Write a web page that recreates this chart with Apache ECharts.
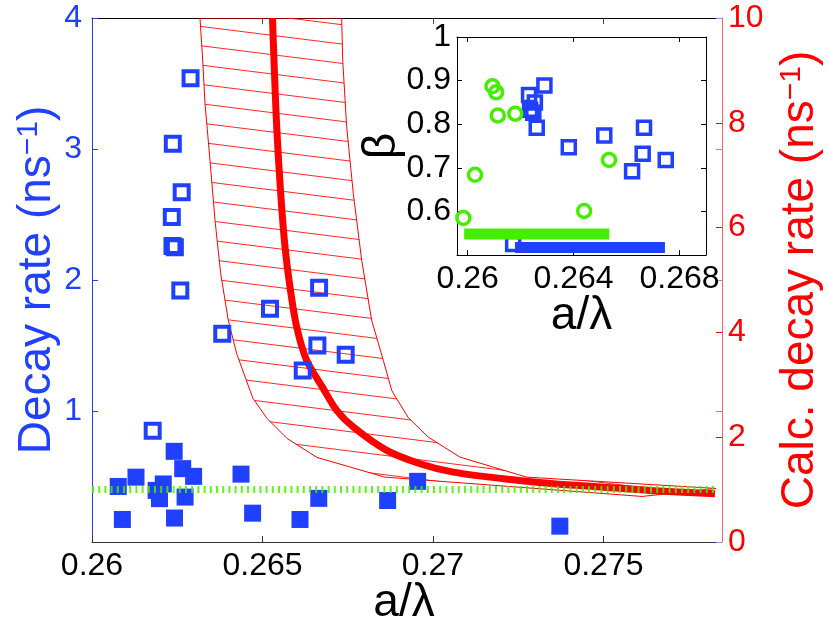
<!DOCTYPE html>
<html>
<head>
<meta charset="utf-8">
<script src="https://cdn.jsdelivr.net/npm/echarts@6/dist/echarts.min.js"></script>
<style>
  html, body { margin: 0; padding: 0; background: #fff; }
  #chart { width: 830px; height: 624px; }
</style>
</head>
<body>
<div id="chart"></div>
<script>
// measured decay rates, open squares (left axis)
var measuredOpen = [
  [0.26289, 3.54], [0.26237, 3.04], [0.26263, 2.67], [0.26234, 2.48],
  [0.26236, 2.26], [0.26243, 2.25], [0.26259, 1.92], [0.26666, 1.94],
  [0.26522, 1.78], [0.26382, 1.59], [0.26661, 1.50], [0.26744, 1.43],
  [0.26618, 1.31], [0.26178, 0.85]
];
// measured decay rates, filled squares (left axis)
var measuredFilled = [
  [0.26077, 0.424], [0.26129, 0.495], [0.26188, 0.394], [0.26209, 0.443],
  [0.26198, 0.331], [0.26241, 0.692], [0.26266, 0.560], [0.26298, 0.501],
  [0.26273, 0.343], [0.26089, 0.172], [0.26242, 0.183], [0.26437, 0.518],
  [0.26471, 0.220], [0.26610, 0.172], [0.26665, 0.333], [0.26867, 0.317],
  [0.26955, 0.463], [0.27372, 0.121]
];
// calculated decay rate (right axis)
var calcCurve = [
  [0.265293, 10.0], [0.265337, 9.198], [0.265416, 7.924], [0.265534, 6.651],
  [0.265660, 5.631], [0.265806, 4.867], [0.266003, 4.103], [0.266296, 3.467],
  [0.266745, 2.970], [0.267176, 2.512], [0.267663, 2.193], [0.268642, 1.748],
  [0.269619, 1.494], [0.270595, 1.333], [0.272062, 1.207], [0.273528, 1.112],
  [0.274994, 1.047], [0.276364, 0.984], [0.278270, 0.921]
];
// uncertainty band edges (right axis)
var bandLower = [
  [0.263167, 10.0], [0.263246, 9.198], [0.263314, 8.371], [0.263460, 7.288],
  [0.263607, 6.141], [0.263774, 5.123], [0.263997, 4.231], [0.264243, 3.595],
  [0.264633, 2.894], [0.264721, 2.741], [0.265132, 2.359], [0.265718, 1.977],
  [0.266598, 1.614], [0.268592, 1.238], [0.276129, 0.869]
];
var bandUpper = [
  [0.267322, 10.0], [0.267352, 9.198], [0.267469, 7.924], [0.267663, 6.651],
  [0.267909, 5.377], [0.268202, 4.231], [0.268543, 3.467], [0.268789, 2.894],
  [0.268915, 2.755], [0.269276, 2.373], [0.269862, 2.002], [0.270792, 1.620],
  [0.272748, 1.238], [0.278299, 1.022]
];
var thresholdLevel = 0.4;

// inset: beta values
var insetSquares = [
  [0.26290, 0.889], [0.26232, 0.867], [0.26254, 0.850], [0.26236, 0.833],
  [0.26248, 0.826], [0.26261, 0.792], [0.26382, 0.747], [0.26516, 0.774],
  [0.26666, 0.792], [0.26661, 0.732], [0.26621, 0.692], [0.26748, 0.718],
  [0.26172, 0.525]
];
var insetCircles = [
  [0.26094, 0.887], [0.26108, 0.873], [0.26114, 0.820], [0.26180, 0.824],
  [0.26028, 0.684], [0.25984, 0.585], [0.26534, 0.718], [0.26440, 0.601]
];
var greenSpan = [[0.25987, 0.548], [0.26535, 0.548]];
var blueSpan = [[0.26179, 0.517], [0.26745, 0.517]];

var mainXTicks = [0.26, 0.265, 0.27, 0.275];
var insetXTicks = [0.26, 0.264, 0.268];

var BLUE = '#2040ff', RED = '#ff0000', GREEN = '#44ee00';
var FONT = 'Liberation Sans, Arial, Helvetica, sans-serif';
var TICK_FS = 32, NAME_FS = 46;

// hatch tile for the band
var tile = document.createElement('canvas');
tile.width = 464; tile.height = 58;
var tctx = tile.getContext('2d');
tctx.strokeStyle = 'rgba(255,0,0,0.85)';
tctx.lineWidth = 1;
for (var k = -3; k <= 3; k++) {
  var y0 = 1.3 + k * 58 / 3;
  tctx.beginPath();
  tctx.moveTo(0, y0);
  tctx.lineTo(464, y0 + 58);
  tctx.stroke();
}
var hatch = { image: tile, repeat: 'repeat' };

var bandPolygon = bandLower.concat(bandUpper.slice().reverse());

var myChart = echarts.init(document.getElementById('chart'));

function plainAxis(extra) {
  var a = {
    type: 'value',
    nameMoveOverlap: false,
    axisLine: { show: true, onZero: false, lineStyle: { color: '#000', width: 1 } },
    axisTick: { inside: true, length: 6, lineStyle: { color: '#000' } },
    axisLabel: { show: false },
    splitLine: { show: false }
  };
  for (var key in extra) a[key] = extra[key];
  return a;
}

var option = {
  backgroundColor: '#fff',
  animation: false,
  textStyle: { fontFamily: FONT },
  grid: [
    { left: 92, top: 18, right: 114, bottom: 82, outerBoundsMode: 'none', containLabel: false },
    { left: 457, top: 37, width: 249, height: 218, show: true, outerBoundsMode: 'none',
      containLabel: false, backgroundColor: '#fff', borderWidth: 0, z: 5 }
  ],
  xAxis: [
    plainAxis({
      gridIndex: 0, min: 0.26, max: 0.2783,
      name: 'a/λ', nameLocation: 'middle', nameGap: 38,
      nameTextStyle: { fontSize: NAME_FS, color: '#000', fontFamily: FONT },
      axisLine: { show: true, onZero: false, lineStyle: { color: '#333', width: 1 } },
      axisTick: { inside: true, length: 6, customValues: mainXTicks, lineStyle: { color: '#333' } },
      axisLabel: { customValues: mainXTicks, fontSize: TICK_FS, color: '#000', margin: 8, fontFamily: FONT }
    }),
    plainAxis({
      gridIndex: 0, position: 'top', min: 0.26, max: 0.2783,
      axisTick: { inside: true, length: 6, customValues: mainXTicks, lineStyle: { color: '#444' } }
    }),
    plainAxis({
      gridIndex: 1, min: 0.2596, max: 0.269, z: 6,
      name: 'a/λ', nameLocation: 'middle', nameGap: 38,
      nameTextStyle: { fontSize: NAME_FS, color: '#000', fontFamily: FONT },
      axisTick: { inside: true, length: 5, customValues: insetXTicks, lineStyle: { color: '#000' } },
      axisLabel: { customValues: insetXTicks, fontSize: TICK_FS, color: '#000', margin: 8, fontFamily: FONT }
    }),
    plainAxis({
      gridIndex: 1, position: 'top', min: 0.2596, max: 0.269, z: 6,
      axisTick: { inside: true, length: 5, customValues: insetXTicks, lineStyle: { color: '#000' } }
    })
  ],
  yAxis: [
    plainAxis({
      gridIndex: 0, min: 0, max: 4, interval: 1,
      name: 'Decay rate (ns{sup|−1})', nameLocation: 'middle', nameGap: 32,
      nameTextStyle: {
        fontSize: NAME_FS, color: BLUE, fontFamily: FONT,
        rich: { sup: { fontSize: 30, color: BLUE, verticalAlign: 'top', fontFamily: FONT } }
      },
      axisLine: { show: true, onZero: false, lineStyle: { color: BLUE, width: 1 } },
      axisTick: { inside: true, length: 6, lineStyle: { color: BLUE } },
      axisLabel: { fontSize: TICK_FS, color: BLUE, margin: 10, showMinLabel: false, fontFamily: FONT }
    }),
    plainAxis({
      gridIndex: 0, position: 'right', offset: 6, min: 0, max: 10, interval: 2,
      name: 'Calc. decay rate (ns{sup|−1})', nameLocation: 'middle', nameGap: 55,
      nameTextStyle: {
        fontSize: NAME_FS, color: RED, fontFamily: FONT,
        rich: { sup: { fontSize: 30, color: RED, verticalAlign: 'top', fontFamily: FONT } }
      },
      axisLine: { show: true, onZero: false, lineStyle: { color: '#ff6060', width: 1 } },
      axisTick: { inside: true, length: 6, lineStyle: { color: RED } },
      axisLabel: { fontSize: TICK_FS, color: RED, margin: 6, fontFamily: FONT }
    }),
    plainAxis({
      gridIndex: 0, position: 'right', offset: 6, min: 0, max: 4, interval: 1,
      axisLine: { show: false },
      axisTick: { inside: true, length: 6, lineStyle: { color: '#8090ff' } }
    }),
    plainAxis({
      gridIndex: 1, min: 0.5, max: 1, interval: 0.1, z: 6,
      name: 'β', nameLocation: 'middle', nameGap: 52,
      nameTextStyle: { fontSize: NAME_FS, color: '#000', fontFamily: FONT },
      axisTick: { inside: true, length: 5, lineStyle: { color: '#000' } },
      axisLabel: { fontSize: TICK_FS, color: '#000', margin: 6, showMinLabel: false, fontFamily: FONT }
    }),
    plainAxis({
      gridIndex: 1, position: 'right', min: 0.5, max: 1, interval: 0.1, z: 6,
      axisTick: { inside: true, length: 5, lineStyle: { color: '#000' } }
    })
  ],
  series: [
    {
      name: 'band', type: 'custom', xAxisIndex: 0, yAxisIndex: 1,
      clip: true, z: 1, silent: true,
      data: bandPolygon,
      renderItem: function (params, api) {
        if (params.dataIndex !== 0) return;
        var pts = bandPolygon.map(function (p) { return api.coord(p); });
        return {
          type: 'polygon',
          shape: { points: pts },
          style: { fill: hatch, stroke: RED, lineWidth: 1 }
        };
      }
    },
    {
      name: 'calc', type: 'line', xAxisIndex: 0, yAxisIndex: 1,
      data: calcCurve, smooth: 0.3, showSymbol: false, symbol: 'none',
      clip: true, z: 2,
      lineStyle: { color: RED, width: 7 }
    },
    {
      name: 'open', type: 'scatter', xAxisIndex: 0, yAxisIndex: 0,
      data: measuredOpen, symbol: 'rect', symbolSize: 14, z: 3,
      itemStyle: { color: 'rgba(0,0,0,0)', borderColor: BLUE, borderWidth: 4, opacity: 1 }
    },
    {
      name: 'filled', type: 'scatter', xAxisIndex: 0, yAxisIndex: 0,
      data: measuredFilled, symbol: 'rect', symbolSize: 17, z: 3,
      itemStyle: { color: BLUE, opacity: 1 }
    },
    {
      name: 'threshold', type: 'line', xAxisIndex: 0, yAxisIndex: 0,
      data: [[0.26, thresholdLevel], [0.2783, thresholdLevel]],
      showSymbol: false, symbol: 'none', z: 4,
      lineStyle: { color: GREEN, width: 7, type: [2, 4.2], opacity: 0.85 }
    },
    {
      name: 'insetSq', type: 'scatter', xAxisIndex: 2, yAxisIndex: 3,
      data: insetSquares, symbol: 'rect', symbolSize: 13, z: 7,
      itemStyle: { color: 'rgba(0,0,0,0)', borderColor: BLUE, borderWidth: 3.5, opacity: 1 }
    },
    {
      name: 'insetCirc', type: 'scatter', xAxisIndex: 2, yAxisIndex: 3,
      data: insetCircles, symbol: 'circle', symbolSize: 13, z: 7,
      itemStyle: { color: 'rgba(0,0,0,0)', borderColor: GREEN, borderWidth: 3.5, opacity: 1 }
    },
    {
      name: 'greenSpan', type: 'line', xAxisIndex: 2, yAxisIndex: 3,
      data: greenSpan, showSymbol: false, symbol: 'none', z: 8,
      lineStyle: { color: GREEN, width: 11, cap: 'butt' }
    },
    {
      name: 'blueSpan', type: 'line', xAxisIndex: 2, yAxisIndex: 3,
      data: blueSpan, showSymbol: false, symbol: 'none', z: 8,
      lineStyle: { color: BLUE, width: 11, cap: 'butt' }
    }
  ]
};

myChart.setOption(option);
</script>
</body>
</html>
